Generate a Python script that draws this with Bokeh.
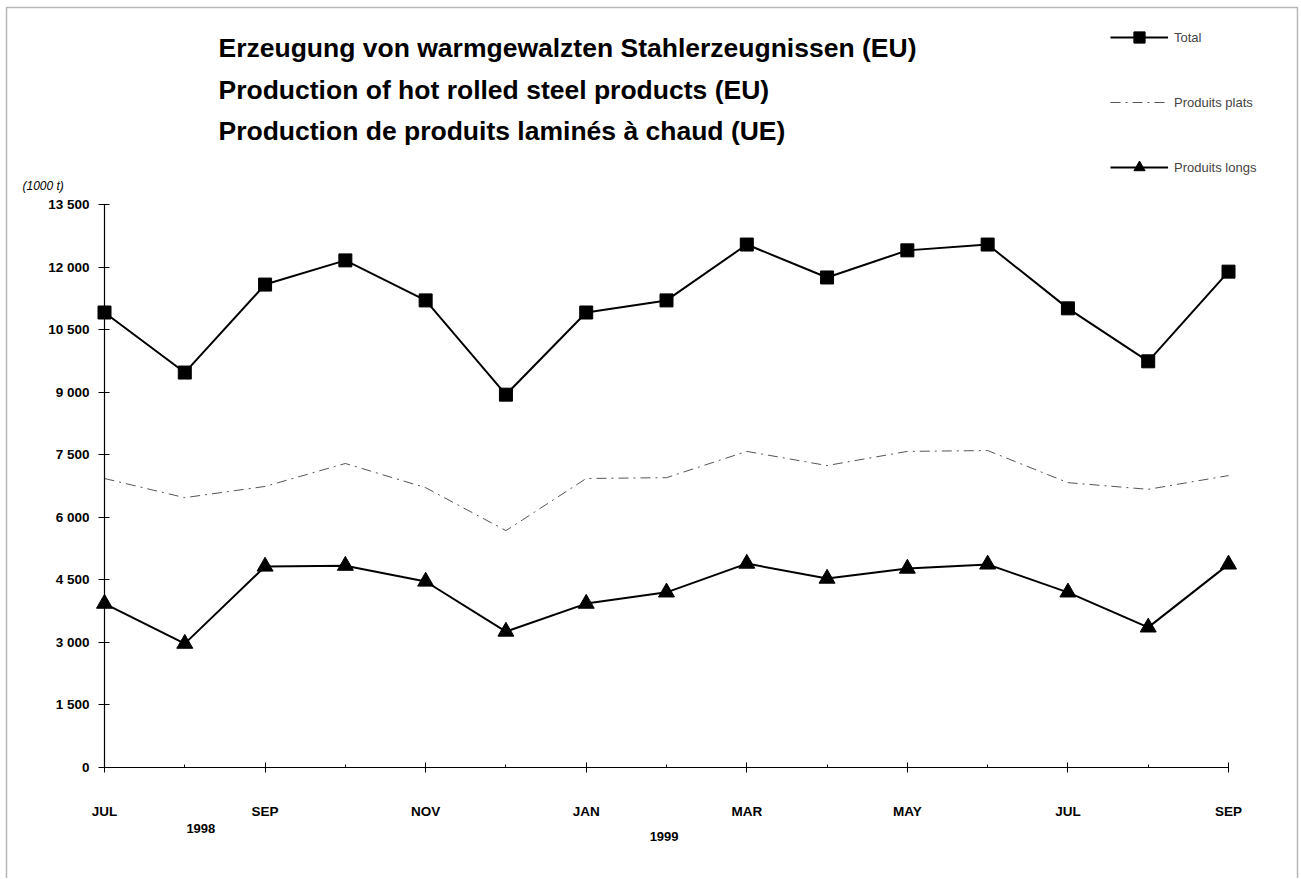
from bokeh.plotting import figure
from bokeh.models import (Range1d, FixedTicker, Label, Legend, LegendItem, ColumnDataSource,
                          LinearAxis, BoxAnnotation)
from bokeh.embed import file_html
from bokeh.resources import INLINE

# ---- data ----
months = ["JUL", "AUG", "SEP", "OCT", "NOV", "DEC", "JAN", "FEB", "MAR", "APR", "MAY", "JUN", "JUL", "AUG", "SEP"]
total = [10910, 9470, 11580, 12160, 11200, 8940, 10910, 11200, 12540, 11750, 12400, 12540, 11010, 9740, 11890]
flat = [6930, 6470, 6740, 7290, 6710, 5680, 6930, 6950, 7580, 7240, 7580, 7600, 6830, 6670, 7000]
long_ = [3930, 2970, 4820, 4840, 4460, 3260, 3930, 4200, 4890, 4530, 4770, 4870, 4200, 3360, 4870]
y_ticks = [0, 1500, 3000, 4500, 6000, 7500, 9000, 10500, 12000, 13500]
y_tick_labels = ["0", "1 500", "3 000", "4 500", "6 000", "7 500", "9 000", "10 500", "12 000", "13 500"]
years = ["1998", "1999"]
year_pos = [1.2, 6.97]
titles = ["Erzeugung von warmgewalzten Stahlerzeugnissen (EU)",
          "Production of hot rolled steel products (EU)",
          "Production de produits laminés à chaud (UE)"]
unit_label = "(1000 t)"
series_names = ["Total", "Produits plats", "Produits longs"]

# ---- layout (pixels) ----
W, H = 1300, 878
X0_PX, X1_PX = 104, 1228      # x=0 and x=14
Y0_PX, Y1_PX = 767, 204       # y=0 and y=13500
NX = len(months) - 1
YMAX = y_ticks[-1]
ppx = (X1_PX - X0_PX) / NX
ppy = (Y0_PX - Y1_PX) / YMAX
def dx(px):
    return (px - X0_PX) / ppx
def dy(py):
    return (Y0_PX - py) / ppy

FONT = "Liberation Sans"
xs = list(range(len(months)))
src = ColumnDataSource(dict(x=xs, total=total, flat=flat, long=long_))

p = figure(width=W, height=H, output_backend="svg", toolbar_location=None,
           x_range=Range1d(dx(0), dx(W)), y_range=Range1d(dy(H), dy(0)),
           x_axis_location=None, y_axis_location=None,
           min_border=0, min_border_left=0, min_border_right=0, min_border_top=0, min_border_bottom=0)
p.outline_line_color = None
p.xgrid.visible = False
p.ygrid.visible = False

# frame border of the page
p.add_layout(BoxAnnotation(left=dx(6), right=dx(1297), top=dy(7), bottom=dy(H + 20),
                           fill_alpha=0, line_color="#111111", line_width=1.5, level="underlay"))

# axes
xa = LinearAxis(fixed_location=0, bounds=(0, NX))
xa.ticker = FixedTicker(ticks=list(range(0, NX + 1, 2)), minor_ticks=list(range(1, NX + 1, 2)))
xa.major_label_overrides = {i: months[i] for i in range(0, NX + 1, 2)}
xa.major_tick_in = 5
xa.major_tick_out = 5
xa.minor_tick_in = 3
xa.minor_tick_out = 0
xa.major_label_standoff = 31
ya = LinearAxis(fixed_location=0, bounds=(0, YMAX))
ya.ticker = FixedTicker(ticks=y_ticks)
ya.major_label_overrides = dict(zip(y_ticks, y_tick_labels))
ya.major_tick_in = 5
ya.major_tick_out = 6
ya.major_label_standoff = 9
for ax in (xa, ya):
    ax.axis_line_color = "black"
    ax.axis_line_width = 1.2
    ax.major_tick_line_color = "black"
    ax.minor_tick_line_color = "black"
    ax.major_label_text_font = FONT
    ax.major_label_text_font_style = "bold"
    ax.major_label_text_font_size = "13.5px"
    ax.major_label_text_color = "black"
ya.minor_tick_line_color = None
p.add_layout(xa, "below")
p.add_layout(ya, "left")

# series
r_flat = p.line("x", "flat", source=src, line_color="#555555", line_width=1, line_dash="10 5 2 5")
r_total_l = p.line("x", "total", source=src, line_color="black", line_width=2)
r_total_m = p.scatter("x", "total", source=src, marker="square", size=13, fill_color="black", line_color="black")
r_long_l = p.line("x", "long", source=src, line_color="black", line_width=2)
r_long_m = p.scatter("x", "long", source=src, marker="triangle", size=16, fill_color="black", line_color="black")

legend = Legend(items=[LegendItem(label=series_names[0], renderers=[r_total_l, r_total_m]),
                       LegendItem(label=series_names[1], renderers=[r_flat]),
                       LegendItem(label=series_names[2], renderers=[r_long_l, r_long_m])],
                location=(1110, H - 181), orientation="vertical",
                glyph_width=58, glyph_height=28, spacing=37, padding=0, margin=0,
                label_standoff=6, label_text_font=FONT, label_text_font_size="13px",
                border_line_color=None, background_fill_alpha=0)
p.add_layout(legend, "center")

# titles and texts
for t, py in zip(titles, [47, 89, 130]):
    p.add_layout(Label(x=dx(218), y=dy(py), text=t,
                       text_font=FONT, text_font_style="bold", text_font_size="26.5px",
                       text_baseline="middle", text_align="left", text_color="black"))
p.add_layout(Label(x=dx(22), y=dy(185), text=unit_label,
                   text_font=FONT, text_font_style="italic", text_font_size="12px",
                   text_baseline="middle", text_align="left", text_color="black"))
for yr, xp, py in zip(years, year_pos, [828, 836]):
    p.add_layout(Label(x=xp, y=dy(py), text=yr,
                       text_font=FONT, text_font_style="bold", text_font_size="13px",
                       text_baseline="middle", text_align="center", text_color="black"))

open("out.html", "w").write(file_html(p, INLINE))
